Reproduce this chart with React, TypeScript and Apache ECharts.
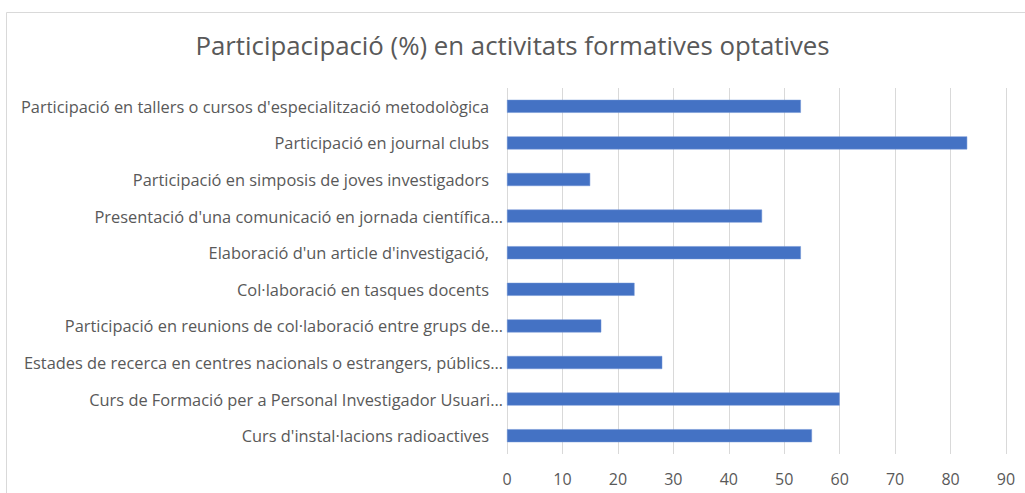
import React, { useEffect, useRef } from "react";
import * as echarts from "echarts";

const titleText = "Participacipació (%) en activitats formatives optatives";

const categories = [
  "Participació en tallers o cursos d'especialització metodològica",
  "Participació en journal clubs",
  "Participació en simposis de joves investigadors",
  "Presentació d'una comunicació en jornada científica…",
  "Elaboració d'un article d'investigació,",
  "Col·laboració en tasques docents",
  "Participació en reunions de col·laboració entre grups de…",
  "Estades de recerca en centres nacionals o estrangers, públics…",
  "Curs de Formació per a Personal Investigador Usuari…",
  "Curs d'instal·lacions radioactives",
];

const values = [53, 83, 15, 46, 53, 23, 17, 28, 60, 55];

const xMin = 0;
const xMax = 90;
const xStep = 10;

export default function App() {
  const ref = useRef<HTMLDivElement>(null);
  useEffect(() => {
    if (!ref.current) return;
    const chart = echarts.init(ref.current, null, { renderer: "svg" });
    const font = "'Open Sans', 'DejaVu Sans', sans-serif";
    chart.setOption({
      animation: false,
      backgroundColor: "#ffffff",
      title: {
        text: titleText,
        left: "center",
        top: 27,
        textStyle: {
          fontFamily: font,
          fontSize: 25.8,
          fontWeight: "normal",
          color: "#595959",
        },
      },
      graphic: [
        {
          type: "rect",
          shape: { x: 6.5, y: 12.5, width: 1040, height: 500 },
          style: { fill: "none", stroke: "#d9d9d9", lineWidth: 1 },
          silent: true,
        },
      ],
      grid: { left: 507, right: 19, top: 88, bottom: 39, containLabel: false },
      xAxis: {
        type: "value",
        min: xMin,
        max: xMax,
        interval: xStep,
        axisLine: { show: false },
        axisTick: { show: false },
        splitLine: { show: true, lineStyle: { color: "#d9d9d9", width: 1 } },
        axisLabel: {
          color: "#595959",
          fontFamily: font,
          fontSize: 16,
          margin: 17,
        },
      },
      yAxis: {
        type: "category",
        inverse: true,
        data: categories,
        axisLine: { show: false },
        axisTick: { show: false },
        axisLabel: {
          color: "#595959",
          fontFamily: font,
          fontSize: 16.4,
          margin: 4,
          formatter: (v: string) => (v.endsWith("…") ? `{t|${v}}` : `{n|${v}}`),
          rich: {
            t: { color: "#595959", fontFamily: font, fontSize: 16.4 },
            n: { color: "#595959", fontFamily: font, fontSize: 16.4, padding: [0, 14, 0, 0] },
          },
        },
      },
      series: [
        {
          type: "bar",
          data: values,
          barWidth: 13,
          itemStyle: { color: "#4472C4", borderColor: "#6f93d6", borderWidth: 0.5 },
        },
      ],
    });
    return () => chart.dispose();
  }, []);
  return (
    <div
      ref={ref}
      style={{ position: "fixed", left: 0, top: 0, width: 1025, height: 493 }}
    />
  );
}
